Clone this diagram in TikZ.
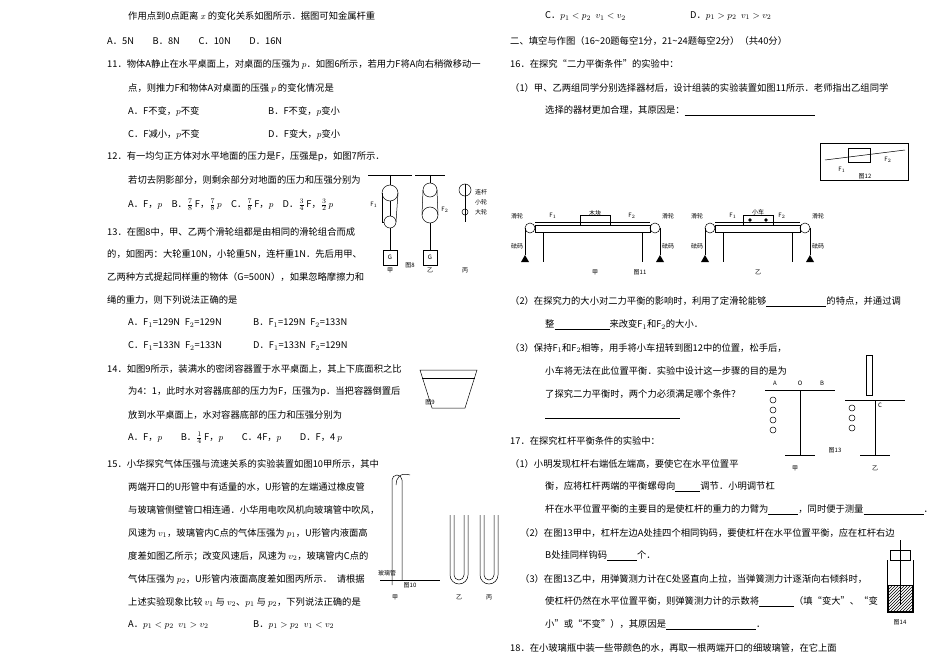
\documentclass[tikz,border=0pt]{standalone}
\usepackage{fontspec}
\setmainfont{Noto Sans CJK SC}
\usetikzlibrary{patterns}
\begin{document}
\begin{tikzpicture}[x=1pt,y=1pt,
 t/.style={anchor=west,inner sep=0,font=\fontsize{9.3}{11}\selectfont},
 s/.style={font=\fontsize{6}{7}\selectfont,inner sep=0},
 ln/.style={line width=0.5pt}]
\useasboundingbox[fill=white] (0,0) rectangle (950,-671);
% left column
\node[t] (l1) at (128,-16) {作用点到0点距离 $x$ 的变化关系如图所示．据图可知金属杆重};
\node[t] (l2) at (107,-41) {A．5N\qquad B．8N\qquad C．10N\qquad D．16N};
\node[t] (l3) at (107,-64) {11．物体A静止在水平桌面上，对桌面的压强为 $p$．如图6所示，若用力F将A向右稍微移动一};
\node[t] (l4) at (128,-88) {点，则推力F和物体A对桌面的压强 $p$ 的变化情况是};
\node[t] (l5) at (128,-111) {A．F不变，$p$不变};
\node[t] (l5b) at (268,-111) {B．F不变，$p$变小};
\node[t] (l6) at (128,-134) {C．F减小，$p$不变};
\node[t] (l6b) at (268,-134) {D．F变大，$p$变小};
\node[t] (l7) at (107,-157) {12．有一均匀正方体对水平地面的压力是F，压强是p，如图7所示．};
\node[t] (l8) at (128,-180) {若切去阴影部分，则剩余部分对地面的压力和压强分别为};
\node[t] (l9) at (128,-205) {A．F，$p$\quad B．$\frac{7}{8}$\,F，$\frac{7}{8}$\,$p$\quad C．$\frac{7}{8}$\,F，$p$\quad D．$\frac{3}{4}$\,F，$\frac{3}{2}$\,$p$};
\node[t] (l10) at (107,-232) {13．在图8中，甲、乙两个滑轮组都是由相同的滑轮组合而成};
\node[t] (l11) at (107,-254) {的，如图丙：大轮重10N，小轮重5N，连杆重1N．先后用甲、};
\node[t] (l12) at (107,-277) {乙两种方式提起同样重的物体（G=500N），如果忽略摩擦力和};
\node[t] (l13) at (107,-300) {绳的重力，则下列说法正确的是};
\node[t] (l14) at (128,-323) {A．F$_1$=129N\enspace F$_2$=129N};
\node[t] (l14b) at (253,-323) {B．F$_1$=129N\enspace F$_2$=133N};
\node[t] (l15) at (128,-346) {C．F$_1$=133N\enspace F$_2$=133N};
\node[t] (l15b) at (253,-346) {D．F$_1$=133N\enspace F$_2$=129N};
\node[t] (l16) at (107,-369) {14．如图9所示，装满水的密闭容器置于水平桌面上，其上下底面积之比};
\node[t] (l17) at (128,-392) {为4：1，此时水对容器底部的压力为F，压强为p．当把容器倒置后};
\node[t] (l18) at (128,-415) {放到水平桌面上，水对容器底部的压力和压强分别为};
\node[t] (l19) at (128,-438) {A．F，$p$\qquad B．$\frac{1}{4}$\,F，$p$\qquad C．4F，$p$\qquad D．F，4 $p$};
\node[t] (l20) at (107,-464) {15．小华探究气体压强与流速关系的实验装置如图10甲所示，其中};
\node[t] (l21) at (128,-487) {两端开口的U形管中有适量的水，U形管的左端通过橡皮管};
\node[t] (l22) at (128,-510) {与玻璃管侧壁管口相连通．小华用电吹风机向玻璃管中吹风，};
\node[t] (l23) at (128,-533) {风速为 $v_1$，玻璃管内C点的气体压强为 $p_1$，U形管内液面高};
\node[t] (l24) at (128,-556) {度差如图乙所示；改变风速后，风速为 $v_2$，玻璃管内C点的};
\node[t] (l25) at (128,-579) {气体压强为 $p_2$，U形管内液面高度差如图丙所示．\enspace 请根据};
\node[t] (l26) at (128,-602) {上述实验现象比较 $v_1$ 与 $v_2$、$p_1$ 与 $p_2$，下列说法正确的是};
\node[t] (l27) at (128,-625) {A．$p_1<p_2$\enspace $v_1>v_2$};
\node[t] (l27b) at (253,-625) {B．$p_1>p_2$\enspace $v_1<v_2$};
% right column
\node[t] (r1) at (545,-16) {C．$p_1<p_2$\enspace $v_1<v_2$};
\node[t] (r1b) at (690,-16) {D．$p_1>p_2$\enspace $v_1>v_2$};
\node[t] (r2) at (510,-41) {二、填空与作图（16\textasciitilde20题每空1分，21\textasciitilde24题每空2分）（共40分）};
\node[t] (r3) at (510,-64) {16．在探究“二力平衡条件”的实验中：};
\node[t] (r4) at (510,-88) {（1）甲、乙两组同学分别选择器材后，设计组装的实验装置如图11所示．老师指出乙组同学};
\node[t] (r5) at (545,-111) {选择的器材更加合理，其原因是：\underline{\hspace{130pt}}};
\node[t] (r6) at (510,-302) {（2）在探究力的大小对二力平衡的影响时，利用了定滑轮能够\underline{\hspace{60pt}}的特点，并通过调};
\node[t] (r7) at (545,-325) {整\underline{\hspace{55pt}}来改变F$_1$和F$_2$的大小．};
\node[t] (r8) at (510,-348) {（3）保持F$_1$和F$_2$相等，用手将小车扭转到图12中的位置，松手后，};
\node[t] (r9) at (545,-371) {小车将无法在此位置平衡．实验中设计这一步骤的目的是为};
\node[t] (r10) at (545,-394) {了探究二力平衡时，两个力必须满足哪个条件？};
\coordinate (u1) at (545,-418); \coordinate (u2) at (680,-418);
\draw[ln] (u1) -- (u2);
\node[t] (r11) at (510,-441) {17．在探究杠杆平衡条件的实验中：};
\node[t] (r12) at (510,-464) {（1）小明发现杠杆右端低左端高，要使它在水平位置平};
\node[t] (r13) at (545,-487) {衡，应将杠杆两端的平衡螺母向\underline{\hspace{25pt}}调节．小明调节杠};
\node[t] (r14) at (545,-510) {杆在水平位置平衡的主要目的是使杠杆的重力的力臂为\underline{\hspace{30pt}}，同时便于测量\underline{\hspace{60pt}}．};
\node[t] (r15) at (520,-533) {（2）在图13甲中，杠杆左边A处挂四个相同钩码，要使杠杆在水平位置平衡，应在杠杆右边};
\node[t] (r16) at (545,-556) {B处挂同样钩码\underline{\hspace{30pt}}个．};
\node[t] (r17) at (520,-579) {（3）在图13乙中，用弹簧测力计在C处竖直向上拉，当弹簧测力计逐渐向右倾斜时，};
\node[t] (r18) at (545,-602) {使杠杆仍然在水平位置平衡，则弹簧测力计的示数将\underline{\hspace{35pt}}（填“变大”、“变};
\node[t] (r19) at (545,-625) {小”或“不变”），其原因是\underline{\hspace{90pt}}．};
\node[t] (r20) at (510,-648) {18．在小玻璃瓶中装一些带颜色的水，再取一根两端开口的细玻璃管，在它上面};

% Fig 8 pulleys
\draw[ln] (368,-175) -- (412,-175);
\draw[ln] (415,-175) -- (445,-175);
\draw[ln] (390,-175)--(390,-185); \draw[ln] (390,-193) circle (8);
\draw[ln] (390,-222) circle (6); \draw[ln] (390,-201)--(390,-216);
\draw[ln] (382,-193)--(382,-222)--(384,-222); \draw[ln] (398,-193)--(396,-222);
\draw[ln] (390,-228)--(390,-250);
\draw[ln] (383,-250) rectangle (397,-265); \node[s] (g1) at (390,-257) {G};
\node[s] (f1a) at (374,-205) {F$_1$};
\node[s] (jia) at (390,-270) {甲};
\draw[ln] (430,-175)--(430,-183); \draw[ln] (430,-190) circle (7);
\draw[ln] (430,-215) circle (8); \draw[ln] (423,-190)--(422,-215); \draw[ln] (437,-190)--(438,-215);
\draw[ln] (430,-223)--(430,-250);
\draw[ln] (423,-250) rectangle (437,-265); \node[s] (g2) at (430,-257) {G};
\node[s] (f2a) at (445,-210) {F$_2$};
\node[s] (yi) at (430,-270) {乙};
\node[s] (fig8) at (410,-265) {图8};
\draw[ln] (465,-190) circle (6); \draw[ln] (465,-212) circle (3);
\draw[ln] (465,-184)--(465,-222);
\node[s,anchor=west] (c1) at (475,-192) {连杆};
\node[s,anchor=west] (c2) at (475,-202) {小轮};
\node[s,anchor=west] (c3) at (475,-212) {大轮};
\node[s] (bing) at (465,-270) {丙};
% Fig 9
\draw[ln] (420,-370)--(477,-370)--(465,-408)--(432,-408)--cycle;
\draw[ln] (422,-378)--(475,-378);
\node[s] (fig9) at (430,-402) {图9};
% Fig 10
\draw[ln] (392,-585) -- (392,-480) arc(180:0:5) -- (402,-580);
\draw[ln] (410,-475) .. controls (400,-472) and (396,-478) .. (396,-485);
\draw[ln] (380,-580) -- (440,-580);
\node[s,anchor=west] (bl) at (378,-573) {玻璃管};
\foreach \xx in {450,480}{
 \draw[ln] (\xx,-515)--(\xx,-575) arc(180:360:9) -- (\xx+18,-515);
 \draw[ln] (\xx+4,-515)--(\xx+4,-575) arc(180:360:5)--(\xx+14,-515);
}
\node[s] (f10) at (410,-585) {图10};
\node[s] (f10a) at (395,-597) {甲};
\node[s] (f10b) at (459,-597) {乙};
\node[s] (f10c) at (489,-597) {丙};
% Fig 12
\draw[ln] (820,-143) rectangle (908,-180);
\draw[ln] (825,-160)--(905,-150);
\draw[ln] (848,-148) rectangle (870,-162);
\node[s] (f12a) at (842,-170) {F$_1$};
\node[s] (f12b) at (888,-160) {F$_2$};
\node[s] (f12) at (865,-176) {图12};
% Fig 11
\foreach \ox/\w in {525/135,705/105}{
 \draw[ln] (\ox+10,-225) rectangle (\ox+\w-10,-232);
 \draw[ln] (\ox+18,-232)--(\ox+18,-262); \draw[ln] (\ox+\w-18,-232)--(\ox+\w-18,-262);
 \draw[ln] (\ox+5,-228) circle (5); \draw[ln] (\ox+\w-5,-228) circle (5);
 \draw[ln] (\ox+10,-222)--(\ox+\w-10,-222);
 \draw[ln] (\ox+0,-228)--(\ox+0,-255); \draw[ln] (\ox+\w,-228)--(\ox+\w,-255);
 \fill (\ox-4,-262)--(\ox,-255)--(\ox+4,-262)--cycle;
 \fill (\ox+\w-4,-262)--(\ox+\w,-255)--(\ox+\w+4,-262)--cycle;
 \node[s] at (\ox+28,-216) {F$_1$};
 \node[s] at (\ox+\w-28,-216) {F$_2$};
 \node[s] at (\ox-8,-216) {滑轮};
 \node[s] at (\ox+\w+8,-216) {滑轮};
 \node[s] at (\ox-8,-246) {砝码};
 \node[s] at (\ox+\w+8,-246) {砝码};
}
\draw[ln] (580,-215) rectangle (610,-225); \node[s] (mk) at (595,-213) {木块};
\draw[ln] (743,-215) rectangle (773,-225); \node[s] (xc) at (758,-212) {小车};
\fill (750,-220) circle (1.8); \fill (766,-220) circle (1.8);
\node[s] (j11) at (595,-272) {甲};
\node[s] (f11) at (640,-272) {图11};
\node[s] (y11) at (758,-272) {乙};
% Fig 13
\draw[ln] (765,-390)--(835,-390);
\draw[ln] (800,-390)--(800,-455); \draw[ln] (785,-455)--(815,-455);
\node[s] (A) at (775,-383) {A}; \node[s] (O) at (800,-383) {O}; \node[s] (B) at (822,-383) {B};
\foreach \yy in {400,410,420,430}{\draw[ln] (773,-\yy) circle (3);}
\draw[ln] (845,-400)--(905,-400);
\draw[ln] (875,-400)--(875,-455); \draw[ln] (860,-455)--(890,-455);
\draw[ln] (866,-355) rectangle (872,-395);
\node[s] (C) at (880,-405) {C};
\foreach \yy in {408,418,428}{\draw[ln] (852,-\yy) circle (3);}
\node[s] (f13) at (835,-450) {图13};
\node[s] (j13) at (795,-468) {甲}; \node[s] (y13) at (875,-468) {乙};
% Fig 14
\draw[ln] (887,-560)--(887,-612)--(913,-612)--(913,-560);
\draw[ln] (890,-550) rectangle (910,-560);
\draw[ln] (900,-540)--(900,-605);
\draw[ln,pattern=north east lines] (888,-585) rectangle (912,-611);
\node[s] (f14) at (900,-622) {图14};
\end{tikzpicture}
\end{document}
